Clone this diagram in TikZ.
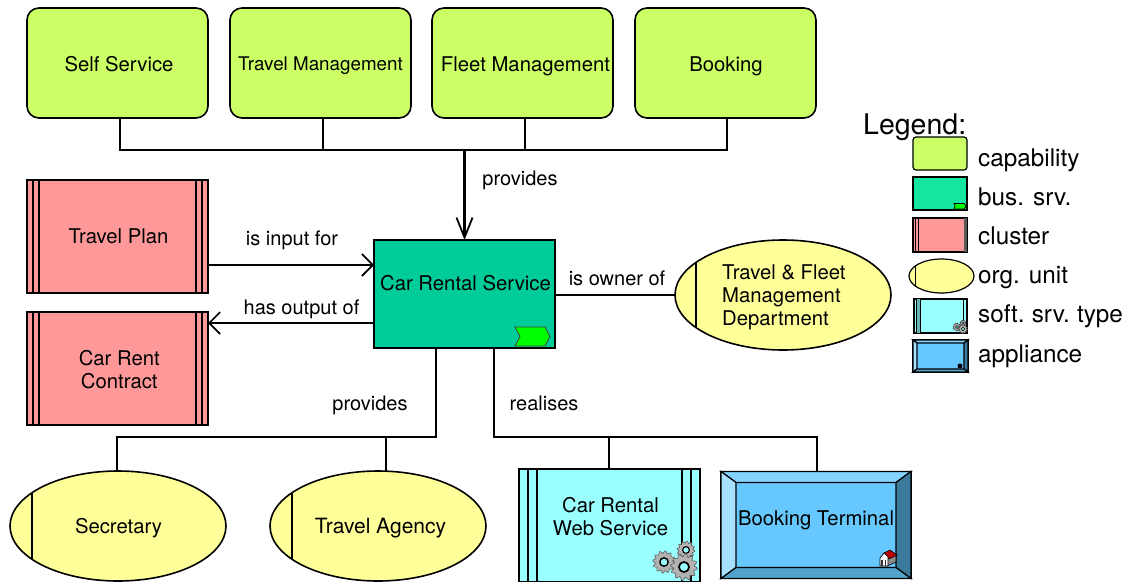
\documentclass[tikz,border=0pt]{standalone}
\usepackage{fontspec}
\setmainfont{TeX Gyre Heros}
\usetikzlibrary{arrows.meta,calc,shapes.geometric}
\definecolor{capcol}{HTML}{CCFF66}
\definecolor{buscol}{HTML}{00CC99}
\definecolor{buslegend}{HTML}{14E6A0}
\definecolor{chevcol}{HTML}{00FF00}
\definecolor{clucol}{HTML}{FF9999}
\definecolor{orgcol}{HTML}{FFFF99}
\definecolor{softcol}{HTML}{99FFFF}
\definecolor{softdark}{HTML}{66B3B3}
\definecolor{appcol}{HTML}{66C8FF}
\definecolor{bevtop}{HTML}{85D4FF}
\definecolor{bevleft}{HTML}{A6E0FF}
\definecolor{bevright}{HTML}{3C7A9C}
\definecolor{bevbottom}{HTML}{52A3CC}
\tikzset{
  main/.style={font=\fontsize{20.3}{23}\selectfont,align=center,inner sep=0pt,outer sep=0pt,draw=black,line width=1.6pt},
  capbox/.style={main,fill=capcol,rounded corners=12pt,minimum width=181,minimum height=110},
  clubox/.style={main,fill=clucol,minimum width=181,minimum height=113},
  orgunit/.style={main,fill=orgcol,ellipse,minimum width=216,minimum height=110},
  link/.style={draw=black,line width=1.6pt},
  arr/.style={link,-{Straight Barb[length=11,width=22,line width=1.6pt]}},
  lab/.style={font=\fontsize{20}{23}\selectfont,anchor=base,inner sep=0pt},
  orgtext/.style={font=\fontsize{20.3}{23}\selectfont,inner sep=0pt},
  legtext/.style={font=\fontsize{24.3}{28}\selectfont,anchor=base west,inner sep=0pt},
  thin line/.style={draw=black,line width=1.2pt},
  legbox/.style={inner sep=0pt,outer sep=0pt,draw=black,line width=1.2pt},
}
\newcommand{\stripes}[3]{% node, offset a, offset b
  \foreach \o in {#2,#3}{
    \draw[thin line] ($(#1.north west)+(\o,0)$) -- ($(#1.south west)+(\o,0)$);
    \draw[thin line] ($(#1.north east)+(-\o,0)$) -- ($(#1.south east)+(-\o,0)$);
  }}
\newcommand{\bevels}[3]{% node, side margin, vertical margin
  \coordinate (nw) at (#1.north west);\coordinate (ne) at (#1.north east);
  \coordinate (sw) at (#1.south west);\coordinate (se) at (#1.south east);
  \coordinate (inw) at ($(nw)+(#2,#3)$);\coordinate (ine) at ($(ne)+(-#2,#3)$);
  \coordinate (isw) at ($(sw)+(#2,-#3)$);\coordinate (ise) at ($(se)+(-#2,-#3)$);
  \draw[thin line,fill=bevtop] (nw)--(ne)--(ine)--(inw)--cycle;
  \draw[thin line,fill=bevleft] (nw)--(sw)--(isw)--(inw)--cycle;
  \draw[thin line,fill=bevright] (ne)--(se)--(ise)--(ine)--cycle;
  \draw[thin line,fill=bevbottom] (sw)--(se)--(ise)--(isw)--cycle;}
\newcommand{\gear}[3]{% x,y,r
  \draw[draw=black!70,line width=0.5pt,fill=black!30] plot[domain=0:360,samples=97,smooth] ({#1+#3*(1+0.13*sin(12*\x))*cos(\x)},{#2+#3*(1+0.13*sin(12*\x))*sin(\x)}) -- cycle;
  \draw[draw=black,line width=#3*0.14pt,fill=softcol] (#1,#2) circle ({#3*0.42});}
\begin{document}
\begin{tikzpicture}[x=1pt,y=-1pt]
\useasboundingbox (0,0) rectangle (1127,581);
% capabilities
\node[capbox] (ss) at (117.5,63) {};
\node[capbox] (tm) at (320.5,63) {};
\node[capbox] (fm) at (522.5,63) {};
\node[capbox] (bk) at (725.5,63) {};
\node[lab,font=\fontsize{20.3}{23}\selectfont] (sst) at (119,71) {Self Service};
\node[lab,font=\fontsize{18.8}{23}\selectfont] (tmt) at (320.5,70) {Travel Management};
\node[lab,font=\fontsize{20.3}{23}\selectfont] (fmt) at (525.5,71) {Fleet Management};
\node[lab,font=\fontsize{20.3}{23}\selectfont] (bkt) at (726,71) {Booking};
% clusters
\node[clubox] (tp) at (117.5,236.5) {\raisebox{-4pt}{\hspace{2pt}Travel Plan}};
\node[clubox] (cc) at (117.5,368.5) {};
\node[orgtext,align=center] (cct) at (119.3,369.5) {Car Rent\\Contract};
\stripes{tp}{6}{12}
\stripes{cc}{6}{12}
% central service
\node[main,fill=buscol,minimum width=181,minimum height=108] (crs) at (464.5,294) {\raisebox{23pt}{\hspace{2pt}Car Rental Service}};
\draw[draw=black!75,line width=0.8pt,fill=chevcol] (515,327) -- (545,327) -- (550,336.5) -- (545,346) -- (515,346) -- (520,336.5) -- cycle;
% org units
\node[orgunit] (tf) at (783,295) {};
\draw[thin line,line width=1.6pt] (696,262) -- (696,328);
\node[orgtext,align=left,anchor=west] (tft) at (722,297) {Travel \& Fleet\\Management\\Department};
\node[orgunit] (sec) at (118,526) {};
\draw[thin line,line width=1.6pt] (32,493) -- (32,559);
\node[orgtext] (sect) at (118.5,528) {Secretary};
\node[orgunit] (ta) at (378,526) {};
\draw[thin line,line width=1.6pt] (292,493) -- (292,559);
\node[orgtext,font=\fontsize{21}{23}\selectfont] (tat) at (380.5,528) {Travel Agency};
% web service
\node[main,fill=softcol,minimum width=181,minimum height=113] (ws) at (609.5,525.5) {};
\node[orgtext,align=center] (wst) at (610.5,516.5) {Car Rental\\Web Service};
\stripes{ws}{9}{18}
\gear{664}{562}{10}
\gear{686}{550}{8}
\gear{684}{567}{12}
% booking terminal
\node[main,fill=appcol,minimum width=190,minimum height=107] (bt) at (816,525) {\raisebox{14pt}{Booking Terminal}};
\bevels{bt}{15}{11}
% house icon
\draw[draw=black,line width=0.6pt,fill=black!45] (887,558) -- (896,555) -- (896,562) -- (887,566) -- cycle;
\draw[draw=black,line width=0.6pt,fill=red!75!black] (884,553) -- (890,550) -- (897,555) -- (889,559) -- cycle;
\draw[draw=black,line width=0.7pt,fill=white] (880,558) -- (884,553) -- (889,558) -- (888,558) -- (888,566) -- (880,566) -- cycle;
\draw[draw=black!80,line width=1.2pt] (882,560) -- (882,566);
\draw[draw=black!80,line width=1.2pt] (885.5,560) -- (885.5,566);
% connectors: capabilities to service
\coordinate (busm) at (464.5,150);
\coordinate (bus1) at (120,150);
\coordinate (bus2) at (323,150);
\coordinate (bus3) at (525,150);
\coordinate (bus4) at (727,150);
\draw[link] (bus1 |- ss.south) -- (bus1) -- (bus4) -- (bus4 |- bk.south);
\draw[link] (bus2 |- tm.south) -- (bus2);
\draw[link] (bus3 |- fm.south) -- (bus3);
\draw[link,line width=2.6pt,-{Straight Barb[length=20,width=16,line width=1.8pt]}] (busm) -- (busm |- crs.north);
\node[lab] (l1) at (520,185) {provides};
% input/output
\coordinate (yin) at (0,265);
\coordinate (yout) at (0,323);
\coordinate (yown) at (0,295);
\draw[arr] (tp.east |- yin) -- (crs.west |- yin);
\draw[arr] (crs.west |- yout) -- (cc.east |- yout);
\draw[link] (crs.east |- yown) -- (tf.west);
\node[lab] (l2) at (292,245) {is input for};
\node[lab] (l3) at (301.5,314) {has output of};
\node[lab] (l4) at (617,285) {is owner of};
% lower left tree
\coordinate (pa) at (436,437);
\coordinate (pb) at (386,437);
\coordinate (pc) at (117,437);
\draw[link] (pa |- crs.south) -- (pa) -- (pc) -- (pc |- sec.north);
\draw[link] (pb) -- (pb |- ta.north);
\node[lab] (l5) at (370,410) {provides};
% lower right tree
\coordinate (ra) at (494,437);
\coordinate (rb) at (609,437);
\coordinate (rc) at (817,437);
\draw[link] (ra |- crs.south) -- (ra) -- (rc) -- (rc |- bt.north);
\draw[link] (rb) -- (rb |- ws.north);
\node[lab] (l6) at (544,410) {realises};
% legend
\node[font=\fontsize{28.5}{32}\selectfont,anchor=base west,inner sep=0pt] (lg) at (863,134) {Legend:};
\node[legbox,fill=capcol,rounded corners=3pt,minimum width=54,minimum height=33] (lk1) at (940,153.5) {};
\node[legbox,fill=buslegend,minimum width=54,minimum height=33] (lk2) at (940,193.5) {};
\draw[draw=black,line width=0.7pt,fill=chevcol] (954,203.5) -- (964,203.5) -- (966,206) -- (964,209) -- (954,209) -- (955,206) -- cycle;
\node[legbox,fill=clucol,minimum width=54,minimum height=34] (lk3) at (940,235) {};
\draw[thin line,line width=0.8pt] (915.5,218) -- (915.5,252);
\draw[thin line,line width=0.8pt] (918,218) -- (918,252);
\fill[black!65] (964,218) rectangle (967,252);
\node[legbox,fill=orgcol,ellipse,minimum width=65,minimum height=34] (lk4) at (941.5,276) {};
\draw[thin line] (915.5,265) -- (915.5,287);
\node[legbox,fill=softcol,minimum width=53,minimum height=34] (lk5) at (940.5,316) {};
\fill[softdark] (916,299) rectangle (920,333);
\draw[thin line,line width=0.7pt] (916,299) -- (916,333);
\draw[thin line,line width=0.7pt] (920,299) -- (920,333);
\draw[thin line,line width=0.7pt] (963,299) -- (963,333);
\gear{957}{327}{3.5}
\gear{963}{323}{2.5}
\gear{963}{329}{4}
\node[legbox,fill=appcol,minimum width=55,minimum height=32] (lk6) at (940.5,356) {};
\bevels{lk6}{4}{3}
\fill[black] (960,366) circle (2.5);
\node[legtext] (t1) at (978,166) {capability};
\node[legtext] (t2) at (978,205) {bus. srv.};
\node[legtext] (t3) at (978,244) {cluster};
\node[legtext] (t4) at (978,283) {org. unit};
\node[legtext] (t5) at (978,322) {\spaceskip=4.8pt soft. srv. type};
\node[legtext] (t6) at (978,362) {appliance};
\end{tikzpicture}
\end{document}
